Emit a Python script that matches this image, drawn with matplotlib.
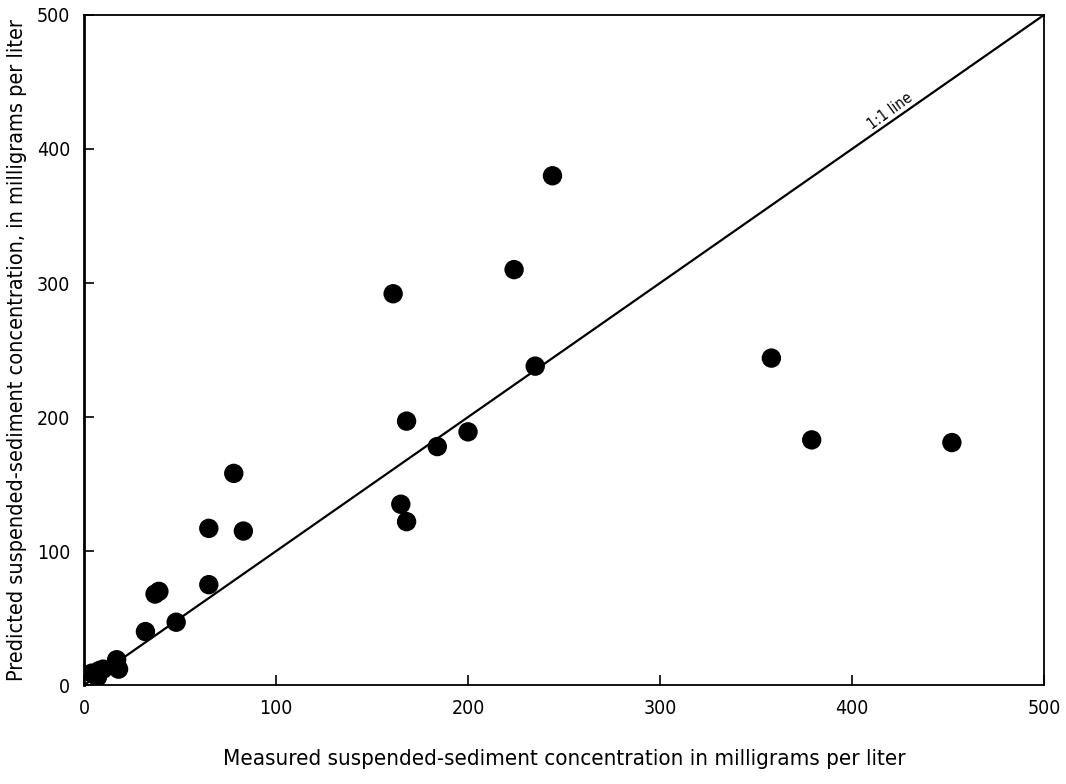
import matplotlib
matplotlib.use("Agg")
import matplotlib.pyplot as plt
import numpy as np

plt.rcParams['font.family'] = ['DejaVu Sans']
plt.rcParams['font.stretch'] = 'condensed'

measured = [244, 224, 161, 235, 358, 379, 452, 168, 200, 184, 165, 168,
            78, 65, 83, 65, 39, 37, 48, 32, 17, 18, 4, 10, 8, 7]
predicted = [380, 310, 292, 238, 244, 183, 181, 197, 189, 178, 135, 122,
             158, 117, 115, 75, 70, 68, 47, 40, 19, 12, 9, 12, 11, 6]
ticks = [0, 100, 200, 300, 400, 500]

fig = plt.figure(figsize=(10.66, 7.84), dpi=100)
ax = fig.add_axes([0.0788, 0.126, 0.9006, 0.855])

ax.plot([0, 500], [0, 500], color='black', lw=1.6, zorder=1)
ax.scatter(measured, predicted, s=195, color='black', edgecolors='none', zorder=2)

ax.text(420, 428, "1:1 line", rotation=36, rotation_mode='anchor',
        ha='center', va='center', fontsize=11)

ax.set_xlim(0, 500)
ax.set_ylim(0, 500)
ax.set_xticks(ticks)
ax.set_yticks(ticks)
ax.tick_params(direction='in', length=7, width=1.2, labelsize=14, pad=10)
for s in ax.spines.values():
    s.set_linewidth(1.3)
ax.spines['left'].set_linewidth(2)

ax.set_xlabel("Measured suspended-sediment concentration in milligrams per liter",
              fontsize=16, labelpad=22)
ax.set_ylabel("Predicted suspended-sediment concentration, in milligrams per liter",
              fontsize=15.5, labelpad=7)

fig.savefig("out.png", dpi=100)
